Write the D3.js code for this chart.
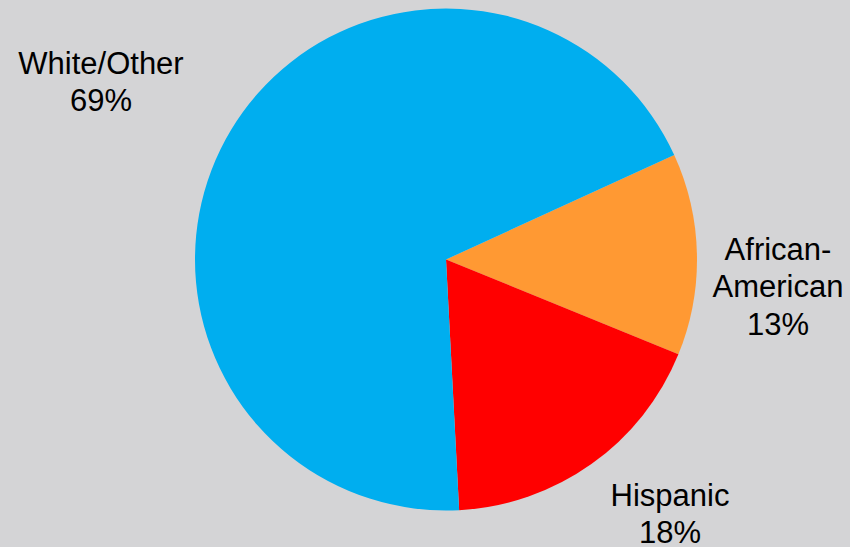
<!DOCTYPE html>
<html>
<head>
<meta charset="utf-8">
<script src="https://cdn.jsdelivr.net/npm/d3@7/dist/d3.min.js"></script>
<style>
  html, body { margin: 0; padding: 0; background: #d4d4d6; }
  svg { display: block; }
  text { font-family: "Liberation Sans", Arial, sans-serif; font-size: 31px; fill: #000; }
</style>
</head>
<body>
<svg id="chart" width="850" height="547"></svg>
<script>
// Population share by group (percent), in drawing order clockwise
const groups = ["African-American", "Hispanic", "White/Other"];
const shares = [13, 18, 69];
const colors = ["#ff9933", "#ff0000", "#00aeef"];
// Label lines for each group
const labelLines = [["African-", "American", "13%"], ["Hispanic", "18%"], ["White/Other", "69%"]];
const labelPos = [[778, 260], [670, 506], [101, 74]];

const svg = d3.select("#chart");
const cx = 446, cy = 259.5, r = 251;
const start = 65.4 * Math.PI / 180;

const pie = d3.pie().sort(null).value(d => d)
  .startAngle(start).endAngle(start + 2 * Math.PI);
const arc = d3.arc().innerRadius(0).outerRadius(r);

const g = svg.append("g").attr("transform", `translate(${cx},${cy})`);
g.selectAll("path")
  .data(pie(shares))
  .join("path")
  .attr("d", arc)
  .attr("fill", (d, i) => colors[i]);

const lineH = 37.3;
groups.forEach((name, i) => {
  const t = svg.append("text")
    .attr("text-anchor", "middle")
    .attr("x", labelPos[i][0])
    .attr("y", labelPos[i][1]);
  labelLines[i].forEach((line, j) => {
    t.append("tspan")
      .attr("x", labelPos[i][0])
      .attr("y", labelPos[i][1] + j * lineH)
      .text(line);
  });
});
</script>
</body>
</html>
